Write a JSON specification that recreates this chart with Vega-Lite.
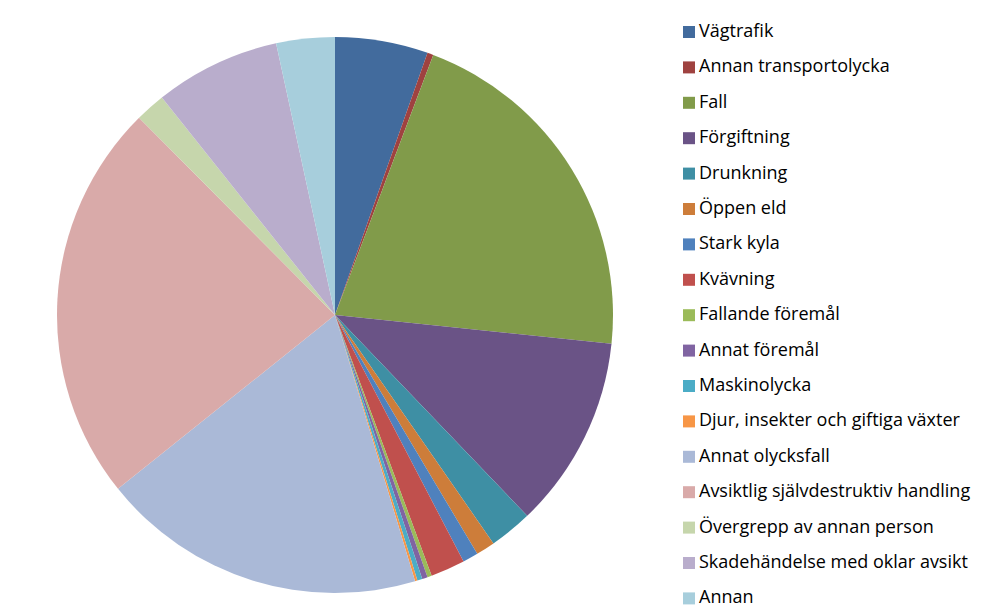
{
  "$schema": "https://vega.github.io/schema/vega-lite/v6.json",
  "autosize": {"type": "none"},
  "width": 556,
  "height": 556,
  "padding": {"left": 57, "top": 37, "right": 377, "bottom": 21},
  "background": "white",
  "data": {"values": [
    {"i": 1, "orsak": "Vägtrafik", "andel": 5.4},
    {"i": 2, "orsak": "Annan transportolycka", "andel": 0.35},
    {"i": 3, "orsak": "Fall", "andel": 20.9},
    {"i": 4, "orsak": "Förgiftning", "andel": 11.2},
    {"i": 5, "orsak": "Drunkning", "andel": 2.5},
    {"i": 6, "orsak": "Öppen eld", "andel": 1.1},
    {"i": 7, "orsak": "Stark kyla", "andel": 0.9},
    {"i": 8, "orsak": "Kvävning", "andel": 2.0},
    {"i": 9, "orsak": "Fallande föremål", "andel": 0.25},
    {"i": 10, "orsak": "Annat föremål", "andel": 0.32},
    {"i": 11, "orsak": "Maskinolycka", "andel": 0.29},
    {"i": 12, "orsak": "Djur, insekter och giftiga växter", "andel": 0.14},
    {"i": 13, "orsak": "Annat olycksfall", "andel": 18.9},
    {"i": 14, "orsak": "Avsiktlig självdestruktiv handling", "andel": 23.3},
    {"i": 15, "orsak": "Övergrepp av annan person", "andel": 1.75},
    {"i": 16, "orsak": "Skadehändelse med oklar avsikt", "andel": 7.3},
    {"i": 17, "orsak": "Annan", "andel": 3.4}
  ]},
  "mark": {"type": "arc", "outerRadius": 278},
  "encoding": {
    "theta": {"field": "andel", "type": "quantitative", "stack": true},
    "order": {"field": "i", "type": "quantitative"},
    "color": {
      "field": "orsak",
      "type": "nominal",
      "sort": {"field": "i"},
      "scale": {
        "domain": ["Vägtrafik", "Annan transportolycka", "Fall", "Förgiftning", "Drunkning", "Öppen eld", "Stark kyla", "Kvävning", "Fallande föremål", "Annat föremål", "Maskinolycka", "Djur, insekter och giftiga växter", "Annat olycksfall", "Avsiktlig självdestruktiv handling", "Övergrepp av annan person", "Skadehändelse med oklar avsikt", "Annan"],
        "range": ["#426B9D", "#9F4240", "#819B4A", "#6A5386", "#3E8FA4", "#CD7D3A", "#4F81BD", "#C0504D", "#9BBB59", "#8064A2", "#4BACC6", "#F79646", "#AAB9D7", "#D9AAA9", "#C6D6AC", "#B9ADCC", "#A7CEDC"]
      },
      "legend": {
        "title": null,
        "orient": "none",
        "legendX": 623,
        "legendY": -14,
        "symbolType": "square",
        "symbolSize": 144,
        "symbolStrokeWidth": 0,
        "labelFont": "Open Sans",
        "labelFontSize": 18,
        "labelColor": "#000000",
        "labelLimit": 400,
        "labelOffset": 1,
        "rowPadding": 17.4
      }
    }
  },
  "config": {"view": {"stroke": null}}
}
